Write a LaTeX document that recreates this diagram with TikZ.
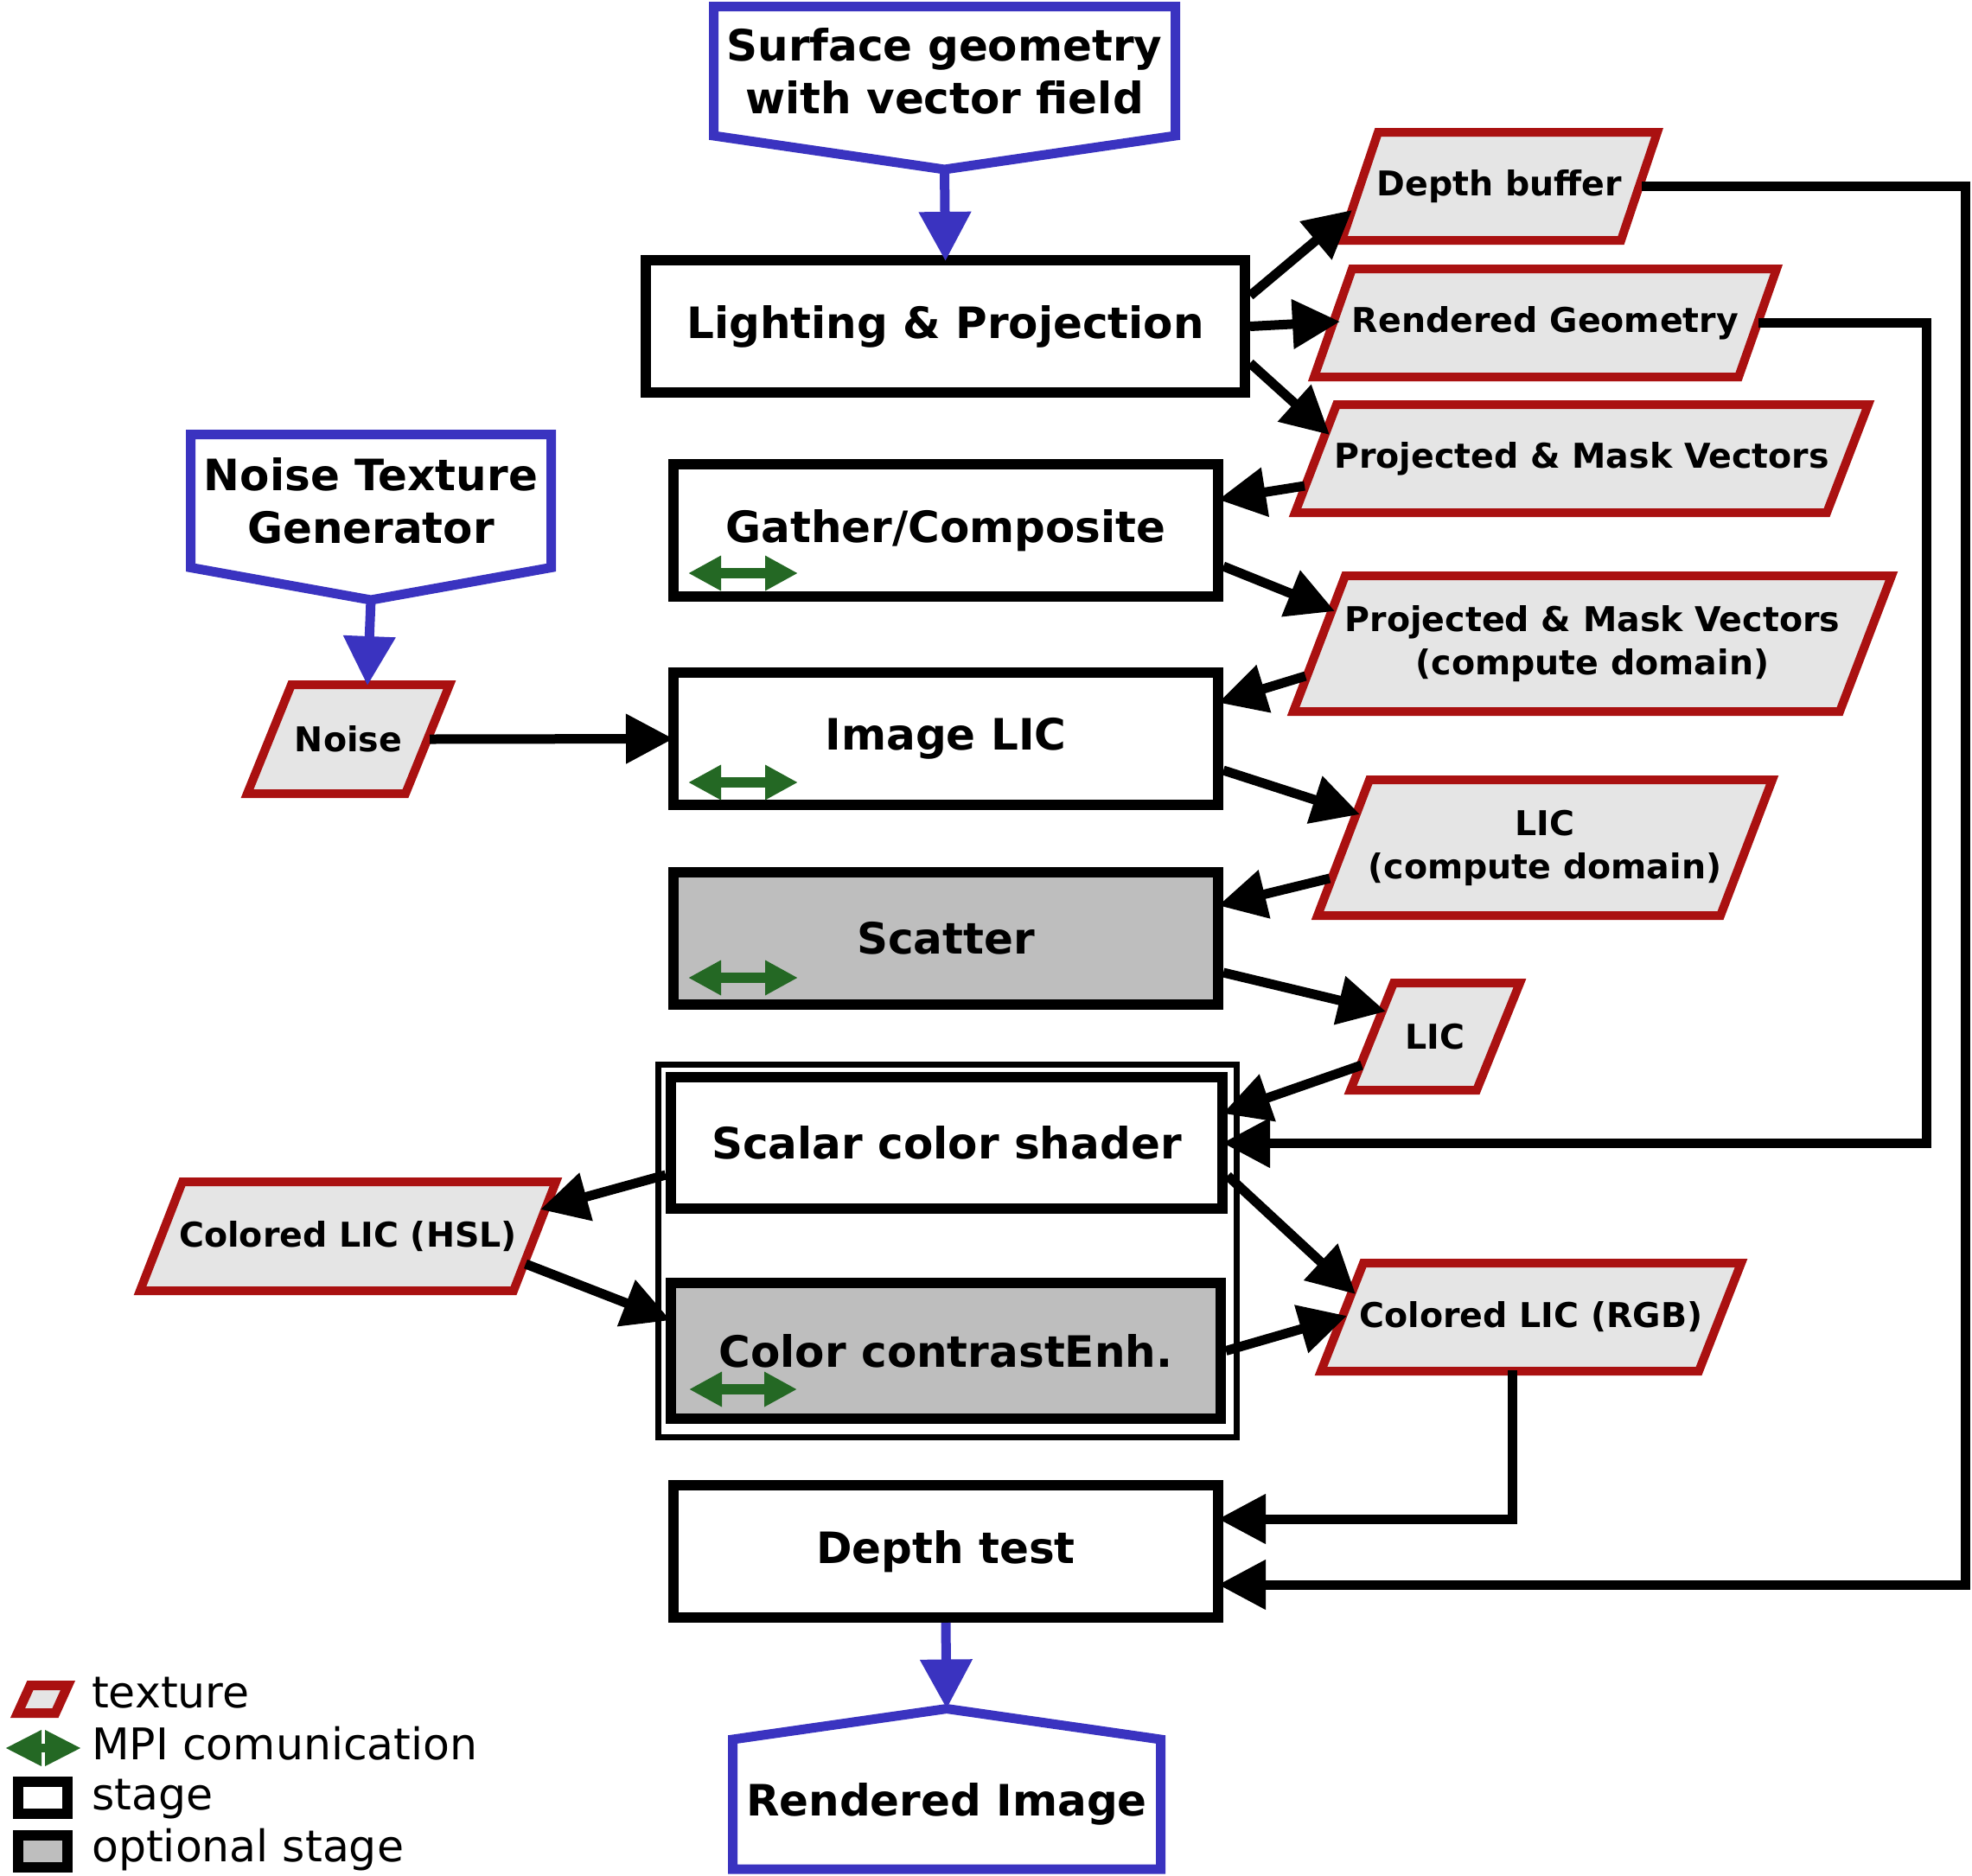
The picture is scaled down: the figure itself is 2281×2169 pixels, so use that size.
\documentclass[tikz,border=0pt]{standalone}
\usepackage{fontspec}
\setmainfont{DejaVu Sans}
\usetikzlibrary{arrows.meta,calc}
\definecolor{bluec}{RGB}{58,51,192}
\definecolor{redc}{RGB}{170,17,17}
\definecolor{texfill}{RGB}{229,229,229}
\definecolor{optfill}{RGB}{190,190,190}
\definecolor{mpic}{RGB}{36,104,36}
\newcommand\StageFnt{\fontsize{50}{61}\selectfont\bfseries}
\newcommand\TexFnt{\fontsize{39.5}{50}\selectfont\bfseries}
\newcommand\LegFnt{\fontsize{50.5}{58}\selectfont}
% name, left, right, top, bottom, slant, text
\newcommand\TexNode[7]{%
  \draw[texborder] ({#2+7},{#5-5}) -- ({#2+7+#6},{#4+5}) -- ({#3-7},{#4+5}) -- ({#3-7-#6},{#5-5}) -- cycle;
  \node[texlabel] (#1) at ({(#2+#3)/2},{(#4+#5)/2}) {#7};}
\tikzset{
  stagebox/.style={draw=black, line width=12pt, fill=white, inner sep=0pt, font=\StageFnt, align=center},
  optbox/.style={stagebox, fill=optfill},
  groupbox/.style={draw=black, line width=7pt, inner sep=0pt},
  texborder/.style={draw=redc, fill=texfill, line width=10pt, line join=miter},
  texlabel/.style={font=\TexFnt, align=center, inner sep=0pt},
  bluelabel/.style={font=\StageFnt, align=center, inner sep=0pt, outer sep=0pt},
  bluebox/.style={draw=bluec, line width=11pt, line join=miter},
  conn/.style={draw=black, line width=11pt, line join=miter, -{Triangle[length=55pt,width=55pt]}},
  connbox/.style={conn, shorten >=-6pt},
  blueconn/.style={draw=bluec, line width=11pt, -{Triangle[length=57pt,width=58pt]}},
  mpiarrow/.style={draw=mpic, line width=12pt, {Triangle[length=38pt,width=38pt]}-{Triangle[length=38pt,width=38pt]}},
  legtext/.style={font=\LegFnt, anchor=base west, inner sep=0pt},
}
\begin{document}
\begin{tikzpicture}[x=1pt,y=-1pt]
\useasboundingbox (0,0) rectangle (2281,2169);

% ---------- blue sources / sink ----------
\node[bluelabel, minimum width=534pt, minimum height=149.5pt] (sg) at (1092.5,82.25) {Surface geometry\\with vector field};
\draw[bluebox] (sg.south west) -- (sg.north west) -- (sg.north east) -- (sg.south east) -- ($(sg.south)+(0,39)$) -- cycle;

\node[bluelabel, minimum width=417pt, minimum height=154pt] (ntg) at (429,579.5) {Noise Texture\\Generator};
\draw[bluebox] (ntg.south west) -- (ntg.north west) -- (ntg.north east) -- (ntg.south east) -- ($(ntg.south)+(0,37.5)$) -- cycle;

\node[bluelabel, minimum width=495pt, minimum height=150pt] (ri) at (1095,2087) {Rendered Image};
\draw[bluebox] (ri.north west) -- ($(ri.north)+(0,-35.5)$) -- (ri.north east) -- (ri.south east) -- (ri.south west) -- cycle;

% ---------- stages ----------
\node[stagebox, minimum width=693pt, minimum height=153pt] (lp) at (1093.5,377.5) {Lighting \& Projection};
\node[stagebox, minimum width=630pt, minimum height=153pt] (gc) at (1094,613.5) {Gather/Composite};
\node[stagebox, minimum width=630pt, minimum height=153pt] (il) at (1094,854.5) {Image LIC};
\node[optbox, minimum width=630pt, minimum height=153pt] (sc) at (1094,1085.5) {Scatter};
\node[groupbox, minimum width=669pt, minimum height=431pt] (grp) at (1096,1447) {};
\node[stagebox, minimum width=638pt, minimum height=152pt] (scs) at (1095,1322) {Scalar color shader};
\node[optbox, minimum width=636pt, minimum height=157pt] (cce) at (1094,1562.5) {Color contrastEnh.};
\node[stagebox, minimum width=630pt, minimum height=153pt] (dt) at (1094,1794.5) {Depth test};

% MPI markers
\draw[mpiarrow] ($(gc.south west)+(23,-33)$) -- ++(127,0);
\draw[mpiarrow] ($(il.south west)+(23,-32)$) -- ++(127,0);
\draw[mpiarrow] ($(sc.south west)+(23,-37)$) -- ++(127,0);
\draw[mpiarrow] ($(cce.south west)+(27,-40)$) -- ++(125,0);

% ---------- textures ----------
\TexNode{db}{1545}{1924}{148}{283}{42}{Depth buffer}
\TexNode{rg}{1513}{2062}{306}{441}{44}{Rendered Geometry}
\TexNode{pma}{1491}{2168}{463}{598}{48}{Projected \& Mask Vectors}
\TexNode{pmb}{1489}{2195}{661}{828}{60}{Projected \& Mask Vectors\\(compute domain)}
\TexNode{lcd}{1517}{2057}{897}{1064}{60}{LIC\\(compute domain)}
\TexNode{lic}{1555}{1765}{1132}{1266}{50}{LIC}
\TexNode{noise}{279}{527}{787}{923}{51}{Noise}
\TexNode{hsl}{155}{650}{1362}{1498}{49}{Colored LIC (HSL)}
\TexNode{rgb}{1521}{2021}{1456}{1591}{49}{Colored LIC (RGB)}

% ---------- connectors ----------
\draw[blueconn, shorten >=-7pt] ($(sg.south)+(0,39)$) -- (lp.north);
\draw[blueconn] ($(ntg.south)+(0,37.5)$) -- ($(noise)+(22,-62)$);
\draw[blueconn] (dt.south) -- ($(ri.north)+(0,-35.5)$);

\draw[conn] ($(lp.north east)+(0,47)$) -- ($(db)+(-170.5,27.5)$);
\draw[conn] (lp.east) -- ($(rg)+(-237.5,-1.5)$);
\draw[conn] ($(lp.east)+(0,42.5)$) -- ($(pma)+(-291.5,-27.5)$);
\draw[connbox] ($(pma)+(-320.5,31.5)$) -- ($(gc.north east)+(0,46)$);
\draw[conn] ($(gc.north east)+(0,124)$) -- ($(pmb)+(-298,-37.5)$);
\draw[connbox] ($(pmb)+(-332,37.5)$) -- ($(il.north east)+(0,39)$);
\draw[conn] ($(il.north east)+(0,119)$) -- ($(lcd)+(-214,-38.5)$);
\draw[connbox] ($(lcd)+(-249,35.5)$) -- ($(sc.north east)+(0,43)$);
\draw[conn] ($(sc.north east)+(0,122)$) -- ($(lic)+(-57,-29)$);
\draw[connbox] ($(lic)+(-85,33)$) -- ($(scs.north east)+(0,46)$);
\draw[connbox] ($(rg)+(246.5,0)$) -- ++(194,0) |- (scs.east);
\draw[connbox] ($(db)+(164.5,0)$) -- ++(374,0) |- ($(dt.east)+(0,38.5)$);
\draw[conn] ($(scs.north west)+(0,119)$) -- ($(hsl)+(222.5,-31)$);
\draw[connbox] ($(hsl)+(205.5,32)$) -- ($(cce.north west)+(0,47)$);
\draw[conn] ($(scs.north east)+(0,120)$) -- ($(rgb)+(-203,-26.5)$);
\draw[conn] (cce.east) -- ($(rgb)+(-213,-1.5)$);
\draw[connbox] ($(rgb)+(-22,61.5)$) |- ($(dt.east)+(0,-37.5)$);
\draw[connbox] ($(noise)+(94,0)$) -- (il.west);

% ---------- legend ----------
\draw[texborder, line width=11pt] (20.5,1981.5) -- (35,1949.5) -- (78.5,1949.5) -- (64,1981.5) -- cycle;
\draw[draw=mpic, line width=10pt, {Triangle[length=42pt,width=39pt]}-{Triangle[length=42pt,width=39pt]}] (6,2022) -- (94,2022);
\draw[draw=black, line width=12pt, fill=white] (21,2061) rectangle (78,2098);
\draw[draw=black, line width=12pt, fill=optfill] (21,2123) rectangle (78,2160);
\node[legtext] (lgtex) at (106,1975) {texture};
\node[legtext] (lgmpi) at (106,2035) {MPI comunication};
\node[legtext] (lgstage) at (106,2093) {stage};
\node[legtext] (lgopt) at (106,2153) {optional stage};
\end{tikzpicture}
\end{document}
